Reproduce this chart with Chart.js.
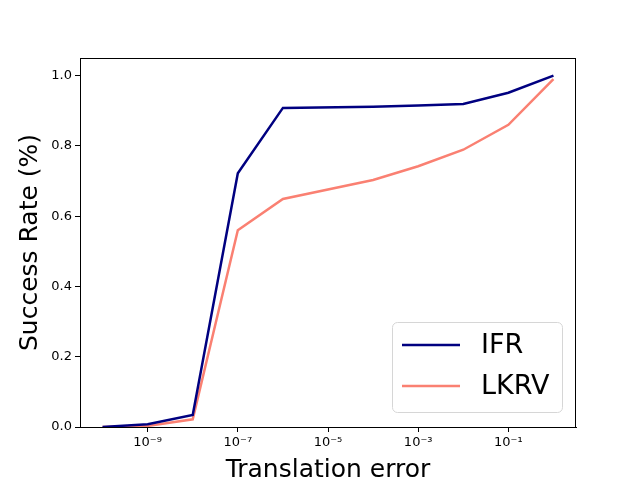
<!DOCTYPE html>
<html>
<head>
<meta charset="utf-8">
<script src="https://cdn.jsdelivr.net/npm/chart.js@4/dist/chart.umd.min.js"></script>
<style>
  html, body { margin: 0; padding: 0; background: #fff; }
  #wrap { width: 640px; height: 480px; }
</style>
</head>
<body>
<div id="wrap"><canvas id="chart" width="640" height="480"></canvas></div>
<script>
(function () {
    "use strict";

    // Data
    const errors = [1e-10, 1e-9, 1e-8, 1e-7, 1e-6, 1e-4, 1e-3, 1e-2, 1e-1, 1];
    const ifrRates = [0, 0.008, 0.034, 0.722, 0.908, 0.911, 0.915, 0.919, 0.951, 1.0];
    const lkrvRates = [0, 0.003, 0.022, 0.56, 0.649, 0.703, 0.742, 0.789, 0.86, 0.99];
    const xTicks = [1e-9, 1e-7, 1e-5, 1e-3, 1e-1];
    const yTicks = [0, 0.2, 0.4, 0.6, 0.8, 1.0];

    const FONT = "'DejaVu Sans', sans-serif";
    const sup = { "-": "\u207b", "0": "\u2070", "1": "\u00b9", "2": "\u00b2", "3": "\u00b3",
        "4": "\u2074", "5": "\u2075", "6": "\u2076", "7": "\u2077", "8": "\u2078", "9": "\u2079" };

    function powLabel(v) {
        const e = String(Math.round(Math.log10(v)));
        return "10" + e.split("").map((c) => sup[c]).join("");
    }

    function toPoints(ys) {
        return errors.map((x, i) => ({ x: x, y: ys[i] }));
    }

    // Frame + legend drawn inside the axes, matplotlib style
    const framePlugin = {
        id: "frame",
        afterDraw(chart) {
            const ctx = chart.ctx;
            const a = chart.chartArea;
            ctx.save();
            ctx.strokeStyle = "#000";
            ctx.lineWidth = 1;
            ctx.strokeRect(a.left + 0.5, a.top + 0.5, a.right - a.left - 1, a.bottom - a.top);

            // legend box, lower right
            const w = 170, h = 90;
            const bx = a.right - 14 - w, by = a.bottom - 15 - h;
            ctx.beginPath();
            ctx.roundRect(bx + 0.5, by + 0.5, w, h, 5);
            ctx.fillStyle = "rgba(255,255,255,0.8)";
            ctx.fill();
            ctx.strokeStyle = "#d6d6d6";
            ctx.stroke();

            ctx.font = "27px " + FONT;
            ctx.textBaseline = "middle";
            ctx.textAlign = "left";
            chart.data.datasets.forEach((ds, i) => {
                const yy = by + 23 + i * 41;
                ctx.beginPath();
                ctx.moveTo(bx + 10, yy);
                ctx.lineTo(bx + 68, yy);
                ctx.strokeStyle = ds.borderColor;
                ctx.lineWidth = 2.5;
                ctx.stroke();
                ctx.fillStyle = "#000";
                ctx.fillText(ds.label, bx + 89, yy + 1);
            });
            ctx.restore();
        }
    };

    const ctx = document.getElementById("chart").getContext("2d");

    new Chart(ctx, {
        type: "line",
        data: {
            datasets: [
                {
                    label: "IFR",
                    data: toPoints(ifrRates),
                    borderColor: "#000080",
                    borderWidth: 2.5,
                    pointRadius: 0,
                    tension: 0,
                },
                {
                    label: "LKRV",
                    data: toPoints(lkrvRates),
                    borderColor: "#fa8072",
                    borderWidth: 2.5,
                    pointRadius: 0,
                    tension: 0,
                },
            ],
        },
        options: {
            responsive: false,
            animation: false,
            layout: {
                padding: { top: 58, right: 64, left: 0, bottom: 0 },
            },
            plugins: {
                legend: { display: false },
                tooltip: { enabled: false },
            },
            scales: {
                x: {
                    type: "logarithmic",
                    min: Math.pow(10, -10.5),
                    max: Math.pow(10, 0.5),
                    afterBuildTicks: (axis) => {
                        axis.ticks = xTicks.map((v) => ({ value: v }));
                    },
                    afterFit: (axis) => {
                        axis.height = 53;
                    },
                    ticks: {
                        color: "#000",
                        font: { family: FONT, size: 13 },
                        padding: 3,
                        maxRotation: 0,
                        autoSkip: false,
                        callback: (v) => powLabel(v),
                    },
                    grid: {
                        drawOnChartArea: false,
                        tickLength: 5,
                        color: "#000",
                    },
                    border: { color: "#000" },
                    title: {
                        display: true,
                        text: "Translation error",
                        color: "#000",
                        font: { family: FONT, size: 25, lineHeight: 0.8 },
                        padding: { top: 0, bottom: 0 },
                    },
                },
                y: {
                    min: 0,
                    max: 1.05,
                    afterBuildTicks: (axis) => {
                        axis.ticks = yTicks.map((v) => ({ value: v }));
                    },
                    afterFit: (axis) => {
                        axis.width = 80;
                    },
                    ticks: {
                        color: "#000",
                        font: { family: FONT, size: 13 },
                        padding: 3,
                        callback: (v) => v.toFixed(1),
                    },
                    grid: {
                        drawOnChartArea: false,
                        tickLength: 5,
                        color: "#000",
                    },
                    border: { color: "#000" },
                    title: {
                        display: true,
                        text: "Success Rate (%)",
                        color: "#000",
                        font: { family: FONT, size: 25, lineHeight: 0.8 },
                        padding: { top: 20, bottom: 0 },
                    },
                },
            },
        },
        plugins: [framePlugin],
    });
})();
</script>
</body>
</html>
